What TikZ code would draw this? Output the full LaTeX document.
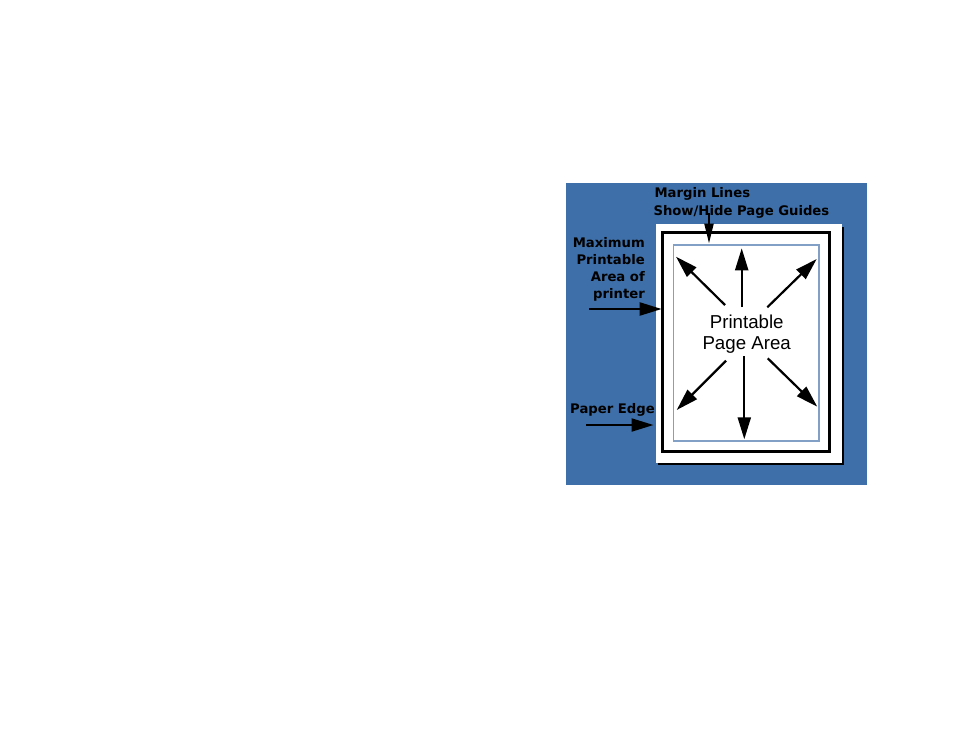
\documentclass[tikz,border=0pt]{standalone}
\usepackage{fontspec}
\setmainfont{DejaVu Sans}
\newfontfamily\helv{Liberation Sans}
\usetikzlibrary{arrows.meta}
\definecolor{bgblue}{RGB}{62,111,168}
\definecolor{guideblue}{RGB}{130,160,198}
\tikzset{
  lbl/.style={inner sep=0pt, font=\bfseries\fontsize{13.2}{17}\selectfont, text=black},
  ptr/.style={line width=2.2pt, -{Triangle[length=22pt,width=13pt]}},
  paperbox/.style={draw=none, fill=white, minimum width=186pt, minimum height=238.4pt, inner sep=0pt},
  framebox/.style={draw=black, line width=2.5pt, minimum width=166.6pt, minimum height=219pt, inner sep=0pt},
  marginbox/.style={draw=guideblue, line width=1.2pt, minimum width=145.7pt, minimum height=196pt, inner sep=0pt},
}
\begin{document}
\begin{tikzpicture}[x=1pt,y=-1pt]
\useasboundingbox (0,0) rectangle (954,737);
\fill[white] (0,0) rectangle (954,737);
\fill[bgblue] (566,183) rectangle (866.5,485);
% paper with shadow
\fill[black] (658.2,226.8) rectangle (844.2,465.2);
\node[paperbox] (paper) at (748.7,343.5) {};
\node[framebox] (frame) at (746,342.2) {};
\node[marginbox] (margin) at (746.2,343) {};
% center text
\node[inner sep=0pt, anchor=base, font=\helv\fontsize{18.7}{21}\selectfont] (t1) at (746.7,328.3) {Printable};
\node[inner sep=0pt, anchor=base, font=\helv\fontsize{18.7}{21}\selectfont] (t2) at (746.7,349.5) {Page Area};
% radial arrows
\coordinate (u0) at (741.7,307);   \coordinate (u1) at (741.7,248.3);
\coordinate (ul0) at (725,305);    \coordinate (ul1) at (676,256.7);
\coordinate (ur0) at (767.3,307.3);\coordinate (ur1) at (816.7,259);
\coordinate (d0) at (744.3,356);   \coordinate (d1) at (744.3,439.3);
\coordinate (dl0) at (726,360.7);  \coordinate (dl1) at (676.7,410);
\coordinate (dr0) at (767.7,358.3);\coordinate (dr1) at (817.3,406.7);
\draw[ptr] (u0) -- (u1);
\draw[ptr] (ul0) -- (ul1);
\draw[ptr] (ur0) -- (ur1);
\draw[ptr] (d0) -- (d1);
\draw[ptr] (dl0) -- (dl1);
\draw[ptr] (dr0) -- (dr1);
% labels
\node[lbl, anchor=base west] (ml1) at (654.3,197.5) {Margin Lines};
\node[lbl, anchor=base west] (ml2) at (653.3,215.5) {Show/Hide Page Guides};
\node[lbl, anchor=base east] (mp1) at (645,247) {Maximum};
\node[lbl, anchor=base east] (mp2) at (645,264) {Printable};
\node[lbl, anchor=base east] (mp3) at (645,281) {Area of\hspace{4pt}};
\node[lbl, anchor=base east] (mp4) at (645,298) {printer};
\node[lbl, anchor=base west] (pe) at (570,413) {Paper Edge};
% label arrows
\coordinate (m0) at (709,213);   \coordinate (m1) at (709,243.5);
\coordinate (a0) at (589.3,309); \coordinate (a1) at (661.7,309);
\coordinate (p0) at (586,425);   \coordinate (p1) at (653.5,425);
\draw[ptr, -{Triangle[length=20pt,width=9pt]}] (m0) -- (m1);
\draw[ptr] (a0) -- (a1);
\draw[ptr] (p0) -- (p1);
\end{tikzpicture}
\end{document}
